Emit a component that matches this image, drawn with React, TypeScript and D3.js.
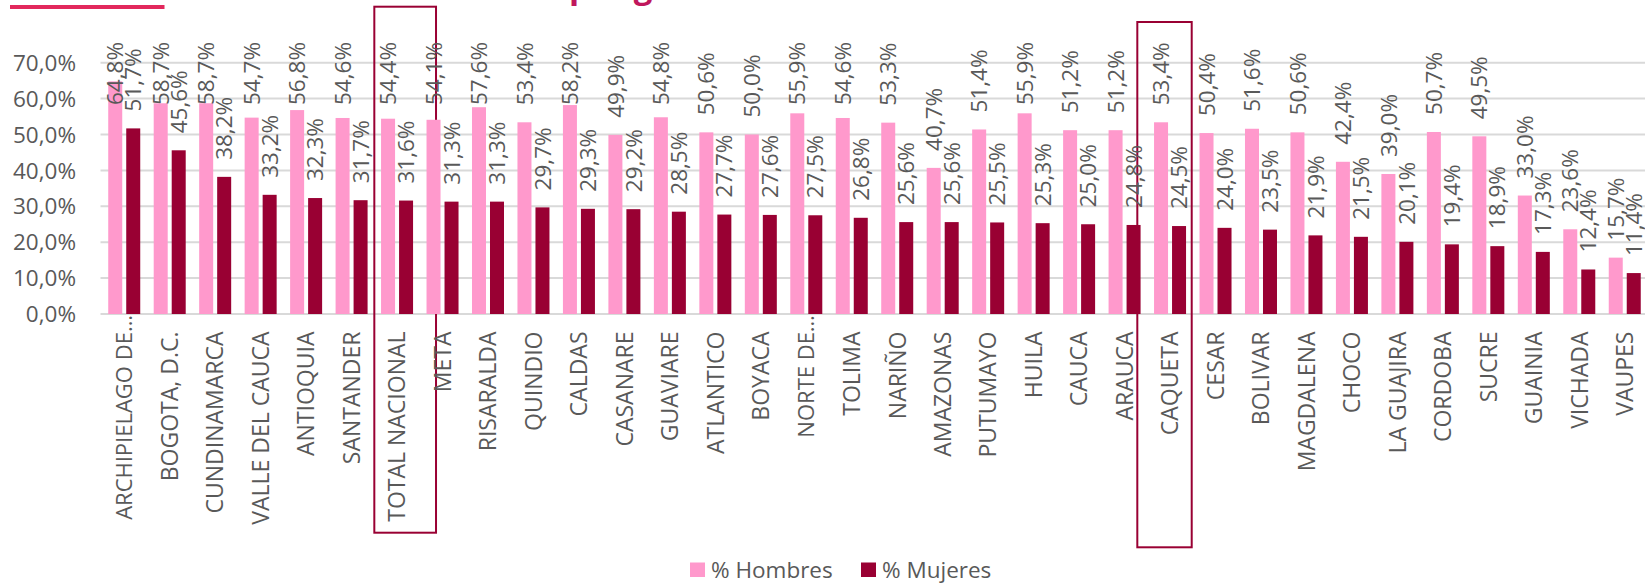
import React from "react";
import * as d3 from "d3";

const CATEGORIES = [
  "ARCHIPIELAGO DE…", "BOGOTA, D.C.", "CUNDINAMARCA", "VALLE DEL CAUCA", "ANTIOQUIA", "SANTANDER",
  "TOTAL NACIONAL", "META", "RISARALDA", "QUINDIO", "CALDAS", "CASANARE", "GUAVIARE", "ATLANTICO",
  "BOYACA", "NORTE DE…", "TOLIMA", "NARIÑO", "AMAZONAS", "PUTUMAYO", "HUILA", "CAUCA", "ARAUCA",
  "CAQUETA", "CESAR", "BOLIVAR", "MAGDALENA", "CHOCO", "LA GUAJIRA", "CORDOBA", "SUCRE", "GUAINIA",
  "VICHADA", "VAUPES",
];
const HOMBRES = [
  64.8, 58.7, 58.7, 54.7, 56.8, 54.6, 54.4, 54.1, 57.6, 53.4, 58.2, 49.9, 54.8, 50.6, 50.0, 55.9, 54.6,
  53.3, 40.7, 51.4, 55.9, 51.2, 51.2, 53.4, 50.4, 51.6, 50.6, 42.4, 39.0, 50.7, 49.5, 33.0, 23.6, 15.7,
];
const MUJERES = [
  51.7, 45.6, 38.2, 33.2, 32.3, 31.7, 31.6, 31.3, 31.3, 29.7, 29.3, 29.2, 28.5, 27.7, 27.6, 27.5, 26.8,
  25.6, 25.6, 25.5, 25.3, 25.0, 24.8, 24.5, 24.0, 23.5, 21.9, 21.5, 20.1, 19.4, 18.9, 17.3, 12.4, 11.4,
];
const Y_TICKS = [0, 10, 20, 30, 40, 50, 60, 70];
const SERIES = ["% Hombres", "% Mujeres"];
const COLORS = ["#FF99CC", "#990033"];
const HIGHLIGHTED = ["TOTAL NACIONAL", "CAQUETA"];
const TITLE_FRAGMENT = "por género";

const W = 1645;
const H = 583;
const FONT = "'Open Sans', 'Segoe UI', sans-serif";
const TEXT = "#595959";

const locale = d3.formatLocale({ decimal: ",", thousands: ".", grouping: [3], currency: ["", ""] });
const fmt = locale.format(".1f");

export default function App() {
  const plotLeft = 101.5;
  const step = 45.47;
  const x0 = d3.scaleBand<string>().domain(CATEGORIES).range([plotLeft, plotLeft + step * CATEGORIES.length]).padding(0);
  const x1 = d3.scaleBand<string>().domain(SERIES).range([0, x0.bandwidth()]).paddingInner(0.222).paddingOuter(0.374);
  const y = d3.scaleLinear().domain([0, 70]).range([314, 62.7]);

  const series = [HOMBRES, MUJERES];

  const boxes = [
    { cat: HIGHLIGHTED[0], dx0: 0, dx1: 61.7, top: 6.7, bottom: 532.7 },
    { cat: HIGHLIGHTED[1], dx0: -10, dx1: 44.4, top: 22, bottom: 547.3 },
  ];

  return (
    <svg width={W} height={H} style={{ position: "fixed", left: 0, top: 0, background: "#fff" }} fontFamily={FONT}>
      <rect x={0} y={0} width={W} height={H} fill="#fff" />
      {/* title remnants */}
      <rect x={10} y={5} width={154.5} height={4} fill="#E2285C" />
      <text x={569} y={-2.5} fontSize={33} fontWeight={700} fill="#C0175C" fontFamily={FONT}>
        {TITLE_FRAGMENT}
      </text>

      {/* gridlines */}
      {Y_TICKS.map((t) => (
        <line key={t} x1={plotLeft - 1} x2={W + 5} y1={y(t)} y2={y(t)} stroke="#D9D9D9" strokeWidth={2} />
      ))}
      {Y_TICKS.map((t) => (
        <text key={"yt" + t} x={76} y={y(t)} dy="0.36em" textAnchor="end" fontSize={22.5} fill={TEXT}>
          {fmt(t) + "%"}
        </text>
      ))}

      {/* highlight boxes */}
      {boxes.map((b) => {
        const bx = (x0(b.cat) as number) + b.dx0;
        const bw = (x0(b.cat) as number) + b.dx1 - bx;
        return (
          <rect key={b.cat} x={bx} y={b.top} width={bw} height={b.bottom - b.top} fill="none" stroke="#990033" strokeWidth={2} />
        );
      })}

      {/* bars */}
      {CATEGORIES.map((c, i) =>
        series.map((vals, s) => {
          const bx = (x0(c) as number) + (x1(SERIES[s]) as number);
          return (
            <rect key={c + s} x={bx} y={y(vals[i])} width={x1.bandwidth()} height={y(0) - y(vals[i])} fill={COLORS[s]} />
          );
        })
      )}

      {/* data labels */}
      {CATEGORIES.map((c, i) =>
        series.map((vals, s) => {
          const cx = (x0(c) as number) + (x1(SERIES[s]) as number) + x1.bandwidth() / 2;
          const yb = Math.max(y(vals[i]) - 17, 105);
          return (
            <text
              key={"l" + c + s}
              transform={`translate(${cx},${yb}) rotate(-90)`}
              dy="0.36em"
              fontSize={22.5}
              fill={TEXT}
            >
              {fmt(vals[i]) + "%"}
            </text>
          );
        })
      )}

      {/* category labels */}
      {CATEGORIES.map((c) => {
        const cx = (x0(c) as number) + x0.bandwidth() / 2;
        const ell = c.endsWith("…");
        const top = ell ? 315 : 331.5;
        return (
          <text
            key={"c" + c}
            transform={`translate(${cx},${top}) rotate(-90)`}
            dy="0.36em"
            textAnchor="end"
            fontSize={ell ? 22 : 23}
            fill={TEXT}
          >
            {c}
          </text>
        );
      })}

      {/* legend */}
      {SERIES.map((s, i) => {
        const lx = [690, 861][i];
        return (
          <g key={"lg" + s}>
            <rect x={lx} y={562.5} width={15} height={14.5} fill={COLORS[i]} />
            <text x={lx + 21} y={569.5} dy="0.36em" fontSize={22.5} fill={TEXT}>
              {s}
            </text>
          </g>
        );
      })}
    </svg>
  );
}
